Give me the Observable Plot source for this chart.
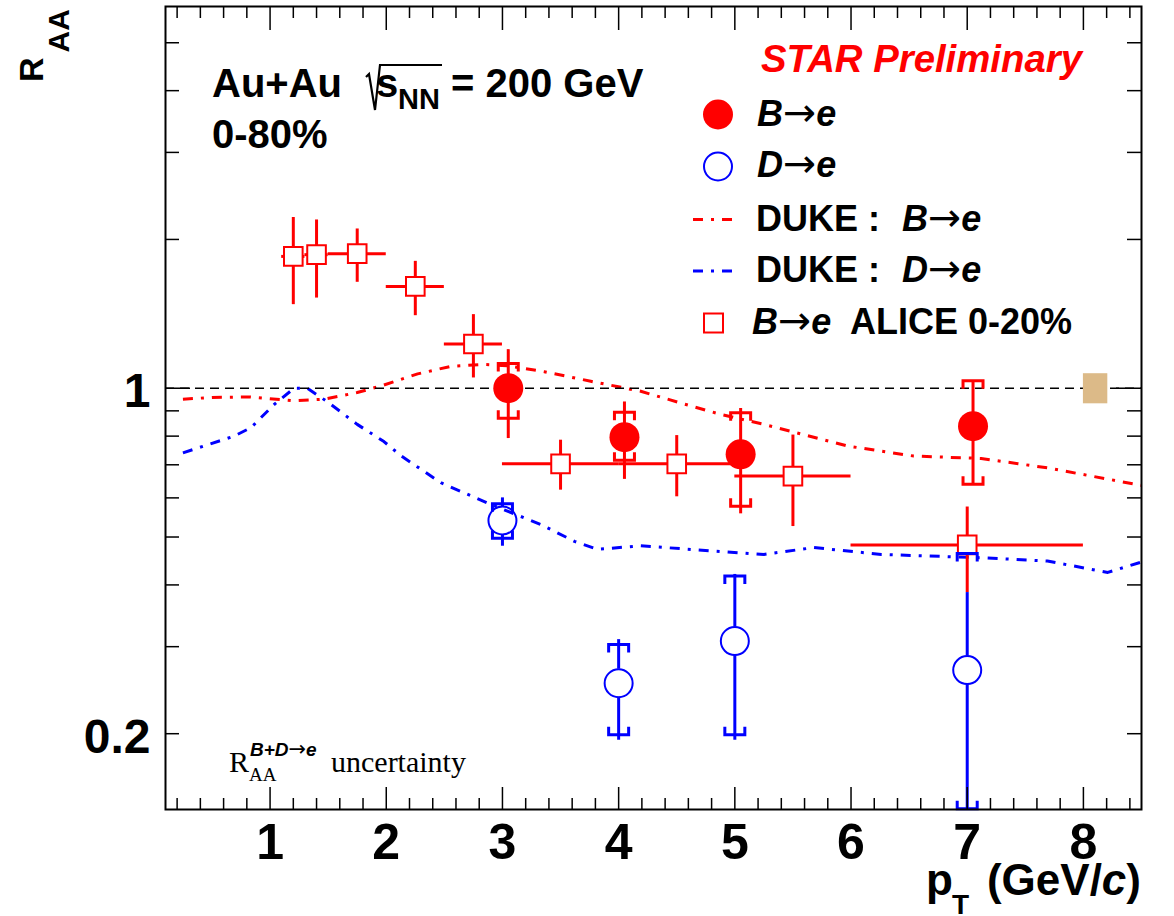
<!DOCTYPE html>
<html><head><meta charset="utf-8">
<script src="https://cdn.jsdelivr.net/npm/d3@7"></script>
<script src="https://cdn.jsdelivr.net/npm/@observablehq/plot@0.6"></script>
<style>body{margin:0;background:#fff;} svg{display:block}</style>
</head><body><div id="chart"></div>
<script>
// ---------- data ----------
// STAR B->e (filled red circles)
const bePt      = [3.05, 4.05, 5.05, 7.05];
const beRaa     = [1.00, 0.796, 0.735, 0.838];
const beStatLo  = [0.791, 0.654, 0.557, 0.639];
const beStatHi  = [1.197, 0.938, 0.910, 1.036];
const beSysLo   = [0.869, 0.715, 0.577, 0.639];
const beSysHi   = [1.122, 0.894, 0.892, 1.036];
// STAR D->e (open blue circles)
const dePt      = [3.0, 4.0, 5.0, 7.0];
const deRaa     = [0.540, 0.253, 0.308, 0.269];
const deStatLo  = [0.479, 0.194, 0.194, 0.10];
const deStatHi  = [0.600, 0.310, 0.420, 0.386];
const deSysLo   = [0.497, 0.199, 0.199, 0.141];
const deSysHi   = [0.584, 0.303, 0.417, 0.463];
// ALICE B->e 0-20% (open red squares)
const alPt   = [1.2, 1.4, 1.75, 2.25, 2.75, 3.5, 4.5, 5.5, 7.0];
const alPtLo = [1.1, 1.3, 1.5, 2.0, 2.5, 3.0, 4.0, 5.0, 6.0];
const alPtHi = [1.3, 1.5, 2.0, 2.5, 3.0, 4.0, 5.0, 6.0, 8.0];
const alRaa  = [1.848, 1.863, 1.872, 1.607, 1.229, 0.703, 0.703, 0.664, 0.482];
const alLo   = [1.476, 1.522, 1.638, 1.402, 1.049, 0.622, 0.603, 0.525, 0.386];
const alHi   = [2.215, 2.190, 2.100, 1.806, 1.409, 0.785, 0.802, 0.804, 0.575];
// DUKE model curves
const dukeBPt  = [0.25, 0.5, 0.83, 1.2, 1.46, 1.75, 1.95, 2.27, 2.56, 2.84, 3.05, 3.36, 3.76, 4.19, 4.53, 4.88, 5.25, 5.97, 6.54, 7.12, 7.69, 8.5];
const dukeBRaa = [0.950, 0.958, 0.960, 0.943, 0.950, 0.980, 1.010, 1.069, 1.108, 1.117, 1.110, 1.080, 1.033, 0.986, 0.934, 0.885, 0.845, 0.764, 0.729, 0.721, 0.690, 0.636];
const dukeDPt  = [0.25, 0.69, 0.835, 1.035, 1.207, 1.32, 1.49, 1.75, 1.98, 2.13, 2.47, 2.9, 3.33, 3.62, 3.82, 4.19, 4.62, 5.25, 5.68, 6.26, 7.12, 7.69, 8.21, 8.5];
const dukeDRaa = [0.740, 0.800, 0.832, 0.927, 1.000, 1.000, 0.940, 0.845, 0.780, 0.729, 0.644, 0.582, 0.530, 0.490, 0.472, 0.480, 0.472, 0.461, 0.476, 0.461, 0.454, 0.447, 0.424, 0.445];
// global normalisation uncertainty box
const uncPt  = [8.0, 8.21];
const uncRaa = [0.93, 1.07];
// ticks
const xTicks = [1, 2, 3, 4, 5, 6, 7, 8];
const xMinor = d3.range(2, 85, 2).map(d => d / 10).filter(d => Math.abs(d - Math.round(d)) > 1e-6);
const yMinor = [0.2, 0.3, 0.4, 0.5, 0.6, 0.7, 0.8, 0.9, 2, 3, 4, 5];
const yLabels = [0.2, 1];

// ---------- layout ----------
const W = 1174, H = 916, ML = 165, MR = 33, MT = 6, MB = 107;
const FW = W - ML - MR, FH = H - MT - MB;
const sans = "'Liberation Sans', Arial, Helvetica, sans-serif";
const serif = "'Liberation Serif', 'Times New Roman', serif";
const arrowFont = "'DejaVu Sans', sans-serif";
const RED = "#ff0000", BLUE = "#0000ff";

const be = bePt.map((x, i) => ({x, y: beRaa[i], sl: beStatLo[i], sh: beStatHi[i], yl: beSysLo[i], yh: beSysHi[i]}));
const de = dePt.map((x, i) => ({x, y: deRaa[i], sl: deStatLo[i], sh: deStatHi[i], yl: deSysLo[i], yh: deSysHi[i]}));
const al = alPt.map((x, i) => ({x, xl: alPtLo[i], xh: alPtHi[i], y: alRaa[i], sl: alLo[i], sh: alHi[i]}));
const dukeB = dukeBPt.map((x, i) => ({x, y: dukeBRaa[i]}));
const dukeD = dukeDPt.map((x, i) => ({x, y: dukeDRaa[i]}));

const capTop = {draw(c) { c.moveTo(-10, 8); c.lineTo(-10, 0); c.lineTo(10, 0); c.lineTo(10, 8); }};
const capBot = {draw(c) { c.moveTo(-10, -8); c.lineTo(-10, 0); c.lineTo(10, 0); c.lineTo(10, -8); }};
const dash = "10,8,3,8";

const chart = Plot.plot({
  width: W, height: H,
  marginLeft: ML, marginRight: MR, marginTop: MT, marginBottom: MB,
  x: {domain: [0.1, 8.5], axis: null},
  y: {type: "log", domain: [0.1405, 5.92], axis: null},
  style: {background: "white", fontFamily: sans},
  marks: [
    Plot.line(dukeB, {x: "x", y: "y", stroke: RED, strokeWidth: 3, strokeDasharray: dash, strokeLinecap: "butt", clip: true}),
    Plot.line(dukeD, {x: "x", y: "y", stroke: BLUE, strokeWidth: 3, strokeDasharray: dash, strokeLinecap: "butt", clip: true}),
    Plot.ruleY([1], {stroke: "black", strokeWidth: 1.6, strokeDasharray: "9,6"}),
    Plot.rect([0], {x1: () => uncPt[0], x2: () => uncPt[1], y1: () => uncRaa[0], y2: () => uncRaa[1], fill: "#dcba88"}),
    // ALICE
    Plot.ruleY(al, {y: "y", x1: "xl", x2: "xh", stroke: RED, strokeWidth: 3}),
    Plot.ruleX(al, {x: "x", y1: "sh", y2: "sl", stroke: RED, strokeWidth: 3}),
    Plot.dot(al, {x: "x", y: "y", symbol: "square", r: 10.5, fill: "white", stroke: RED, strokeWidth: 2}),
    // STAR B->e
    Plot.ruleX(be, {x: "x", y1: "sh", y2: "sl", stroke: RED, strokeWidth: 3}),
    Plot.dot(be, {x: "x", y: "yh", symbol: capTop, fill: "none", stroke: RED, strokeWidth: 3}),
    Plot.dot(be, {x: "x", y: "yl", symbol: capBot, fill: "none", stroke: RED, strokeWidth: 3}),
    Plot.dot(be, {x: "x", y: "y", r: 15, fill: RED, stroke: "none"}),
    // STAR D->e
    Plot.ruleX(de, {x: "x", y1: "sh", y2: "y", insetBottom: 14, stroke: BLUE, strokeWidth: 3, clip: true}),
    Plot.ruleX(de, {x: "x", y1: "y", y2: "sl", insetTop: 14, stroke: BLUE, strokeWidth: 3, clip: true}),
    Plot.dot(de, {x: "x", y: "yh", symbol: capTop, fill: "none", stroke: BLUE, strokeWidth: 3}),
    Plot.dot(de, {x: "x", y: "yl", symbol: capBot, fill: "none", stroke: BLUE, strokeWidth: 3}),
    Plot.dot(de, {x: "x", y: "y", r: 14, fill: "none", stroke: BLUE, strokeWidth: 2}),
    // frame and ticks
    Plot.frame({stroke: "black", strokeWidth: 2}),
    Plot.ruleX(xTicks, {insetTop: FH - 22, stroke: "black", strokeWidth: 1.5}),
    Plot.ruleX(xMinor, {insetTop: FH - 11, stroke: "black", strokeWidth: 1.5}),
    Plot.ruleX(xTicks, {insetBottom: FH - 24, stroke: "black", strokeWidth: 1.5}),
    Plot.ruleX(xMinor, {insetBottom: FH - 12, stroke: "black", strokeWidth: 1.5}),
    Plot.ruleY(yMinor, {insetRight: FW - 14, stroke: "black", strokeWidth: 1.5}),
    Plot.ruleY([1], {insetRight: FW - 25, stroke: "black", strokeWidth: 1.5}),
    Plot.ruleY(yMinor, {insetLeft: FW - 14, stroke: "black", strokeWidth: 1.5}),
    Plot.ruleY([1], {insetLeft: FW - 25, stroke: "black", strokeWidth: 1.5}),
    // tick labels
    Plot.text(xTicks, {x: d => d, frameAnchor: "bottom", lineAnchor: "bottom", dy: 49, text: d => String(d), fontSize: 50, fontWeight: "bold", fill: "black"}),
    Plot.text(yLabels, {y: d => d, frameAnchor: "left", lineAnchor: "bottom", textAnchor: "end", dx: -15, dy: 19, text: d => String(d), fontSize: 48, fontWeight: "bold", fill: "black"})
  ]
});
document.getElementById("chart").append(chart);

// ---------- annotations ----------
const svg = d3.select(chart);
const g = svg.append("g").attr("font-family", sans).attr("font-weight", "bold").attr("fill", "black").attr("text-anchor", "start");
function txt(x, y, s, size, opts = {}) {
  const t = g.append("text").attr("x", x).attr("y", y).attr("font-size", size).text(s);
  if (opts.italic) t.attr("font-style", "italic");
  if (opts.fill) t.attr("fill", opts.fill);
  if (opts.family) t.attr("font-family", opts.family);
  if (opts.weight) t.attr("font-weight", opts.weight);
  if (opts.anchor) t.attr("text-anchor", opts.anchor);
  if (opts.len) t.attr("textLength", opts.len).attr("lengthAdjust", "spacingAndGlyphs");
  return t;
}
// "X -> e" with a thin arrow, ROOT style
function arrowTxt(x, y, a, b, size) {
  const t = g.append("text").attr("x", x).attr("y", y).attr("font-size", size).attr("font-style", "italic");
  t.append("tspan").text(a);
  t.append("tspan").attr("font-family", arrowFont).attr("font-weight", "normal").attr("font-style", "normal")
    .attr("font-size", size * 1.1).text("\u2192");
  t.append("tspan").text(b);
  return t;
}

// y axis title R_AA (rotated)
const ya = g.append("text").attr("transform", "translate(43,82) rotate(-90)");
ya.append("tspan").attr("font-size", 34).text("R");
ya.append("tspan").attr("font-size", 30).attr("dx", 5).attr("dy", 26).text("AA");

// x axis title p_T (GeV/c)
txt(926, 895, "p", 44);
txt(952, 914, "T", 28);
const xt = txt(1141, 895, "", 44, {anchor: "end"});
xt.append("tspan").text("(GeV/");
xt.append("tspan").attr("font-style", "italic").text("c");
xt.append("tspan").text(")");

// system label
txt(212, 97, "Au+Au", 40);
g.append("path").attr("d", "M366,77 L369,74 L375,110 L380,65 L442,65").attr("fill", "none").attr("stroke", "black").attr("stroke-width", 2.2);
txt(376, 97, "s", 40);
txt(398, 109, "NN", 29);
txt(451, 97, "= 200 GeV", 40);
txt(212, 148, "0-80%", 40);

// STAR Preliminary
txt(761, 72, "STAR Preliminary", 38, {italic: true, fill: RED, len: 321});

// legend
const leg = svg.append("g");
leg.append("circle").attr("cx", 718).attr("cy", 114.5).attr("r", 15).attr("fill", RED);
leg.append("circle").attr("cx", 718).attr("cy", 166.5).attr("r", 14).attr("fill", "none").attr("stroke", BLUE).attr("stroke-width", 2);
leg.append("line").attr("x1", 693).attr("x2", 738).attr("y1", 219.5).attr("y2", 219.5).attr("stroke", RED).attr("stroke-width", 3).attr("stroke-dasharray", dash);
leg.append("line").attr("x1", 693).attr("x2", 738).attr("y1", 271).attr("y2", 271).attr("stroke", BLUE).attr("stroke-width", 3).attr("stroke-dasharray", dash);
leg.append("rect").attr("x", 704).attr("y", 313.5).attr("width", 19).attr("height", 19).attr("fill", "white").attr("stroke", RED).attr("stroke-width", 2);

arrowTxt(757, 126, "B", "e", 36);
arrowTxt(757, 177, "D", "e", 36);
txt(756, 231, "DUKE :", 36);
arrowTxt(902, 231, "B", "e", 36);
txt(756, 282, "DUKE :", 36);
arrowTxt(902, 282, "D", "e", 36);
arrowTxt(752, 334, "B", "e", 36);
txt(850, 334, "ALICE 0-20%", 36);

// R_AA^{B+D->e} uncertainty
txt(229, 772, "R", 30, {family: serif, weight: "normal"});
txt(249, 781, "AA", 19, {family: serif, weight: "normal"});
arrowTxt(250, 756, "B+D", "e", 19);
txt(331, 772, "uncertainty", 30, {family: serif, weight: "normal"});
</script>
</body></html>
